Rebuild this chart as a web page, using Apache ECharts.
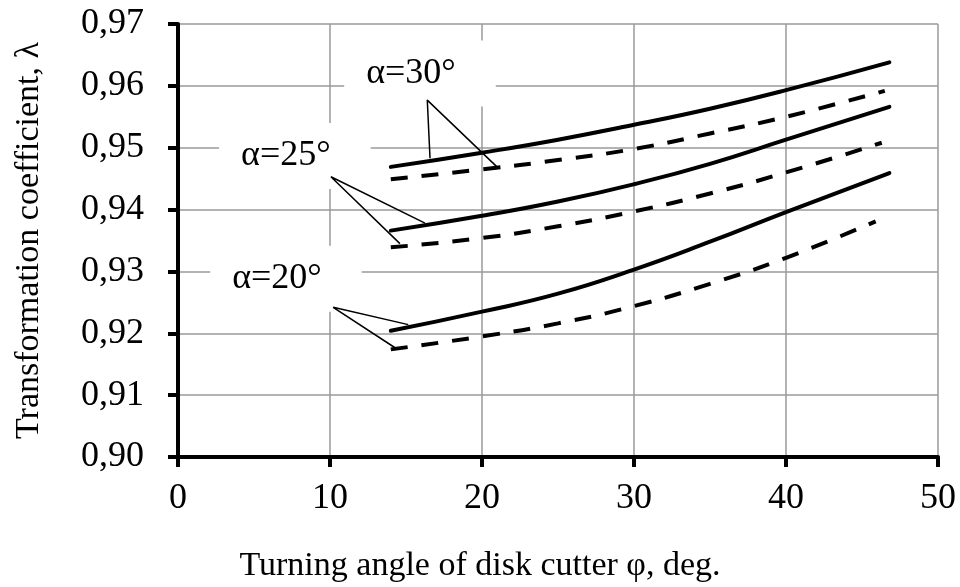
<!DOCTYPE html>
<html>
<head>
<meta charset="utf-8">
<script src="https://cdn.jsdelivr.net/npm/echarts@6/dist/echarts.min.js"></script>
<style>
  html, body { margin: 0; padding: 0; background: #ffffff; }
  #chart { width: 960px; height: 587px; }
</style>
</head>
<body>
<div id="chart"></div>
<script>
// Turning angle of the disk cutter, deg (x positions of the measured points)
const phiSolid = [14, 20, 25, 30, 35, 40, 46.8];
const phiDash30 = [14, 20, 25, 30, 35, 40, 46.5];
const phiDash25 = [14, 20, 25, 30, 35, 40, 46.3];
const phiDash20 = [14, 20, 25, 30, 35, 40, 45.9];

// Transformation coefficient λ for each rake angle α
const lambda30Solid = [0.9469, 0.9492, 0.9513, 0.9537, 0.9563, 0.9593, 0.9638];
const lambda30Dash  = [0.9449, 0.9465, 0.9480, 0.9498, 0.9523, 0.9550, 0.9592];
const lambda25Solid = [0.9366, 0.9390, 0.9413, 0.9441, 0.9474, 0.9513, 0.9566];
const lambda25Dash  = [0.9339, 0.9354, 0.9373, 0.9397, 0.9426, 0.9460, 0.9508];
const lambda20Solid = [0.9204, 0.9235, 0.9264, 0.9303, 0.9348, 0.9396, 0.9459];
const lambda20Dash  = [0.9174, 0.9195, 0.9216, 0.9244, 0.9280, 0.9322, 0.9381];

// Tick labels
const xTickLabels = ['0', '10', '20', '30', '40', '50'];
const yTickLabels = ['0,90', '0,91', '0,92', '0,93', '0,94', '0,95', '0,96', '0,97'];

// Curve captions: [φ, λ, text]
const captions = [
  [15.92, 0.9620, 'α=30°'],
  [7.69, 0.94866, 'α=25°'],
  [7.10, 0.92883, 'α=20°']
];
// Leader lines: solid-curve point, apex under caption, dashed-curve point
const leader30 = [[16.58, 0.9483], [16.40, 0.9577], [21.07, 0.9467]];
const leader25 = [[16.25, 0.9378], [10.06, 0.9453], [14.60, 0.9345]];
const leader20 = [[15.15, 0.9214], [10.21, 0.9242], [14.38, 0.9175]];

const FONT = "'Liberation Serif', 'DejaVu Serif', serif";
const zip = (xs, ys) => xs.map((x, i) => [x, ys[i]]);

function curve(xs, ys, dashed) {
  return {
    type: 'line',
    data: zip(xs, ys),
    smooth: 0.5,
    symbol: 'none',
    silent: true,
    z: 4,
    lineStyle: {
      color: '#000',
      width: 4,
      type: dashed ? [17, 14] : 'solid',
      cap: dashed ? 'butt' : 'round'
    }
  };
}

function leader(pts) {
  return {
    type: 'line',
    data: pts,
    symbol: 'none',
    silent: true,
    z: 3,
    lineStyle: { color: '#000', width: 1.5 }
  };
}

const chart = echarts.init(document.getElementById('chart'), null, { renderer: 'canvas' });

chart.setOption({
  animation: false,
  backgroundColor: '#ffffff',
  title: {
    text: 'Turning angle of disk cutter φ, deg.',
    left: 'center',
    top: 549,
    padding: 0,
    textStyle: { fontFamily: FONT, fontSize: 34, fontWeight: 'normal', color: '#000' }
  },
  grid: { left: 178, right: 22, top: 24, bottom: 130, containLabel: false },
  xAxis: {
    type: 'value',
    min: 0, max: 50, interval: 10,
    axisLine: { show: true, onZero: false, lineStyle: { color: '#000', width: 4 } },
    axisTick: { show: true, inside: false, length: 10, lineStyle: { color: '#000', width: 4 } },
    axisLabel: {
      margin: 24,
      fontFamily: FONT, fontSize: 36, color: '#000',
      formatter: (v, i) => xTickLabels[i]
    },
    splitLine: { show: true, lineStyle: { color: '#9a9a9a', width: 1.5 } }
  },
  yAxis: {
    type: 'value',
    min: 0.90, max: 0.97, interval: 0.01,
    name: 'Transformation coefficient, λ',
    nameLocation: 'middle',
    nameGap: 132,
    nameRotate: 90,
    nameTextStyle: { fontFamily: FONT, fontSize: 34, color: '#000' },
    axisLine: { show: true, onZero: false, lineStyle: { color: '#000', width: 4 } },
    axisTick: { show: true, inside: false, length: 10, lineStyle: { color: '#000', width: 4 } },
    axisLabel: {
      margin: 34,
      fontFamily: FONT, fontSize: 36, color: '#000',
      formatter: (v, i) => yTickLabels[i]
    },
    splitLine: { show: true, lineStyle: { color: '#9a9a9a', width: 1.5 } }
  },
  series: [
    {
      type: 'scatter',
      data: captions,
      symbolSize: 0,
      silent: true,
      z: 2,
      itemStyle: { opacity: 1 },
      label: {
        show: true,
        position: 'inside',
        formatter: p => p.data[2],
        fontFamily: FONT,
        fontSize: 36,
        color: '#000',
        opacity: 1,
        backgroundColor: '#ffffff',
        padding: [15, 40, 15, 22]
      }
    },
    leader(leader30),
    leader(leader25),
    leader(leader20),
    curve(phiSolid, lambda30Solid, false),
    curve(phiDash30, lambda30Dash, true),
    curve(phiSolid, lambda25Solid, false),
    curve(phiDash25, lambda25Dash, true),
    curve(phiSolid, lambda20Solid, false),
    curve(phiDash20, lambda20Dash, true)
  ]
});
</script>
</body>
</html>
